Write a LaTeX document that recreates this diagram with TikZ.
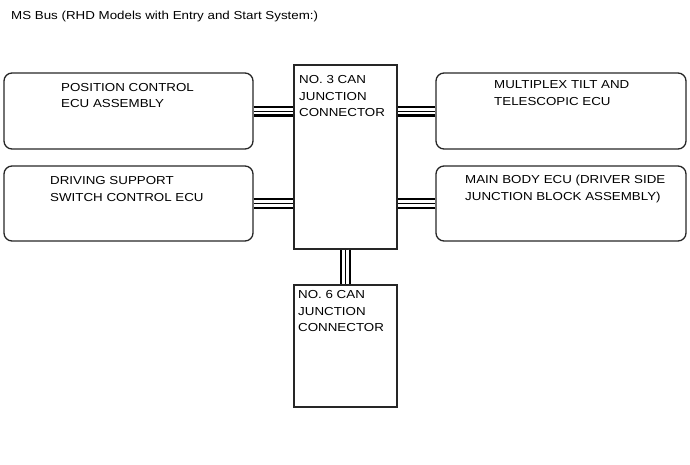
\documentclass[tikz,border=0pt]{standalone}
\usepackage{fontspec}
\newfontfamily\labfont[FakeStretch=1.15]{Liberation Sans}
\begin{document}
\begin{tikzpicture}[x=1pt,y=1pt,
  ecubox/.style={draw=black!85, line width=1.3pt, rounded corners=8pt, inner sep=0pt},
  canbox/.style={draw=black!85, line width=1.3pt, inner sep=0pt, minimum width=103pt},
  lab/.style={inner sep=0pt, align=left, anchor=base west,
    font=\labfont\fontsize{11.6}{16.7}\selectfont},
  bus/.style={draw, black, line width=11pt,
    postaction={draw, white, line width=6.2pt},
    postaction={draw, black, line width=1pt}}]
\useasboundingbox (0,0) rectangle (690,-464);

\node[lab] (title) at (11,-19.3) {MS Bus (RHD Models with Entry and Start System:)};

\node[ecubox, minimum width=249pt, minimum height=76pt] (L1) at (128.5,-111) {};
\node[ecubox, minimum width=249pt, minimum height=75pt] (L2) at (128.5,-203.5) {};
\node[ecubox, minimum width=250pt, minimum height=76pt] (R1) at (561,-111) {};
\node[ecubox, minimum width=250pt, minimum height=75pt] (R2) at (561,-203.5) {};

\node[canbox, minimum height=184pt] (C3) at (345.5,-157) {};
\node[canbox, minimum height=122pt] (C6) at (345.5,-346) {};

\draw[bus] (L1.east) -- (L1.east -| C3.west);
\draw[bus] (L2.east) -- (L2.east -| C3.west);
\draw[bus] (R1.west) -- (R1.west -| C3.east);
\draw[bus] (R2.west) -- (R2.west -| C3.east);
\draw[bus] (C3.south) -- (C6.north);

\node[lab] (t1) at (61,-107.7) {POSITION CONTROL\\ECU ASSEMBLY};
\node[lab] (t2) at (50,-201) {DRIVING SUPPORT\\SWITCH CONTROL ECU};
\node[lab] (t3) at (494,-105) {MULTIPLEX TILT AND\\TELESCOPIC ECU};
\node[lab] (t4) at (465,-200) {MAIN BODY ECU (DRIVER SIDE\\JUNCTION BLOCK ASSEMBLY)};
\node[lab] (t5) at (299,-116.9) {NO. 3 CAN\\JUNCTION\\CONNECTOR};
\node[lab] (t6) at (298,-331.7) {NO. 6 CAN\\JUNCTION\\CONNECTOR};
\end{tikzpicture}
\end{document}
